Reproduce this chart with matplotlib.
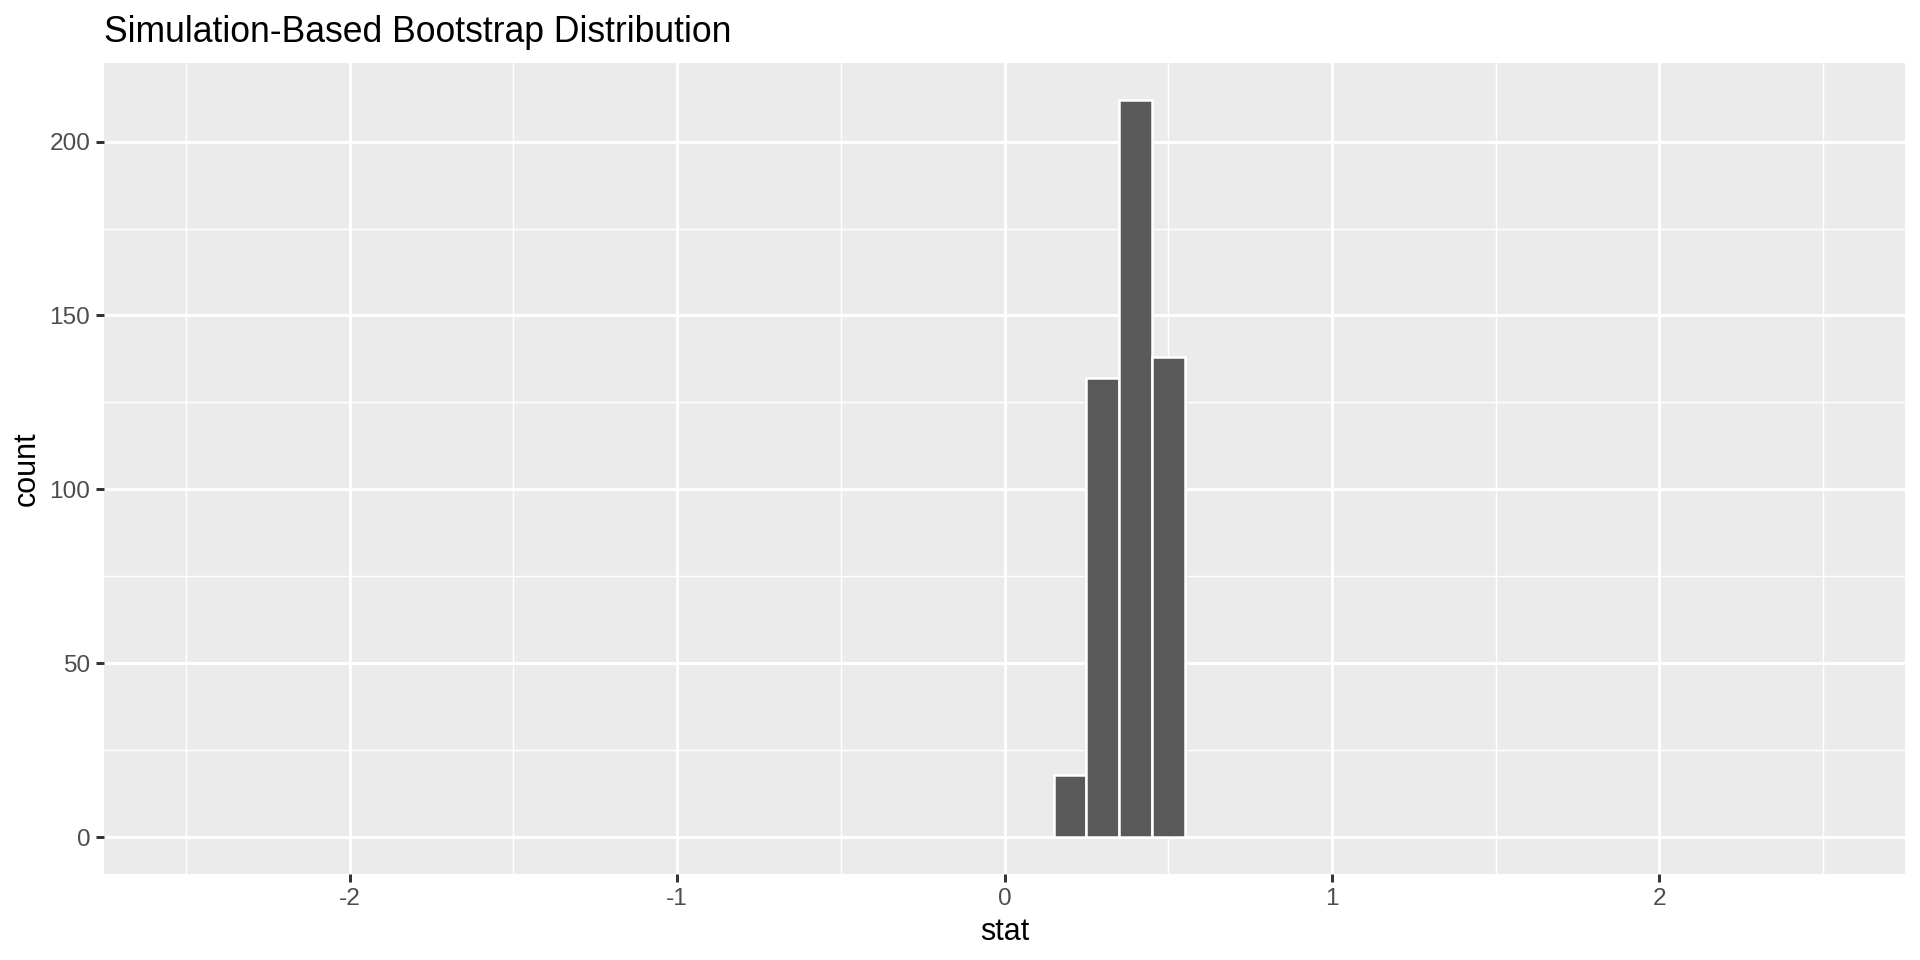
import matplotlib
matplotlib.use('Agg')
import matplotlib.pyplot as plt
import numpy as np

# bootstrap histogram bins
bin_edges = [0.15, 0.25, 0.35, 0.45, 0.55]
bin_counts = [18, 132, 212, 138]
x_ticks = [-2, -1, 0, 1, 2]
x_minor = [-2.5, -1.5, -0.5, 0.5, 1.5, 2.5]
y_ticks = [0, 50, 100, 150, 200]
y_minor = [25, 75, 125, 175]

plt.rcParams['font.family'] = ['Liberation Sans', 'DejaVu Sans']

fig = plt.figure(figsize=(9.6, 4.8), dpi=200)
ax = fig.add_axes([104 / 1920, 1 - 874 / 960, (1905 - 104) / 1920, (874 - 63) / 960])
ax.set_facecolor('#EBEBEB')

# grid lines
for v in x_minor:
    ax.axvline(v, color='white', lw=0.53, zorder=0)
for v in y_minor:
    ax.axhline(v, color='white', lw=0.53, zorder=0)
for v in x_ticks:
    ax.axvline(v, color='white', lw=1.07, zorder=0)
for v in y_ticks:
    ax.axhline(v, color='white', lw=1.07, zorder=0)

lefts = np.array(bin_edges[:-1])
widths = np.diff(bin_edges)
ax.bar(lefts, bin_counts, width=widths, align='edge', color='#595959',
       edgecolor='white', linewidth=0.9, zorder=2)

ax.set_xlim(-2.75, 2.75)
ax.set_ylim(-10.6, 222.6)
ax.set_xticks(x_ticks)
ax.set_xticklabels([str(t) for t in x_ticks])
ax.set_yticks(y_ticks)
for s in ax.spines.values():
    s.set_visible(False)
ax.tick_params(axis='both', length=2.75, width=1.07, color='#333333',
               labelcolor='#4D4D4D', labelsize=8.8, pad=2.2)

ax.set_xlabel('stat', fontsize=11, labelpad=2.75)
ax.set_ylabel('count', fontsize=11, labelpad=2.75)
ax.set_title('Simulation-Based Bootstrap Distribution', fontsize=12.8,
             loc='left', pad=7.5)

fig.savefig('out.png', dpi=200)
